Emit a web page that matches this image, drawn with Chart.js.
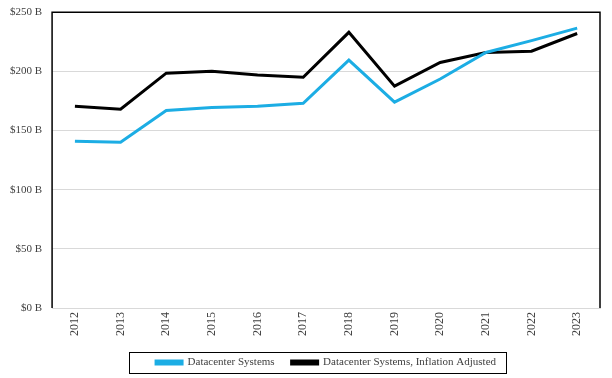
<!DOCTYPE html>
<html><head><meta charset="utf-8">
<script src="https://cdn.jsdelivr.net/npm/chart.js@4"></script>
<style>html,body{margin:0;padding:0;background:#fff}#wrap{width:612px;height:378px}</style>
</head><body><div id="wrap"><canvas id="c" width="612" height="378"></canvas></div>
<script>
const years = ["2012","2013","2014","2015","2016","2017","2018","2019","2020","2021","2022","2023"];
const datacenter = [141, 140, 167, 169.5, 170.5, 173, 209.5, 174, 193.5, 216, 226, 236.5];
const datacenterAdj = [170.5, 168, 198.5, 200, 197, 195, 233, 187.5, 207.5, 216, 217, 232];
const seriesNames = ["Datacenter Systems", "Datacenter Systems, Inflation Adjusted"];
const yTicks = [0, 50, 100, 150, 200, 250];

const frame = {
  id: 'frame',
  afterDraw(chart) {
    const {ctx, chartArea: a} = chart;
    ctx.save();
    ctx.lineWidth = 1.5;
    ctx.strokeStyle = '#000';
    ctx.beginPath();
    ctx.moveTo(a.left, a.bottom);
    ctx.lineTo(a.left, a.top);
    ctx.lineTo(a.right, a.top);
    ctx.lineTo(a.right, a.bottom);
    ctx.stroke();
    const hb = chart.legend.legendHitBoxes;
    if (hb && hb.length) {
      const l = Math.min(...hb.map(h => h.left)) - 27;
      const r = Math.max(...hb.map(h => h.left + h.width)) + 10;
      const t = Math.min(...hb.map(h => h.top)) - 5;
      const b = Math.max(...hb.map(h => h.top + h.height)) + 5;
      ctx.lineWidth = 1;
      ctx.strokeRect(Math.round(l) + 0.5, Math.round(t) + 0.5, Math.round(r - l), Math.round(b - t));
    }
    ctx.restore();
  }
};

new Chart(document.getElementById('c'), {
  type: 'line',
  data: {
    labels: years,
    datasets: [
      {label: seriesNames[0], data: datacenter, borderColor: '#1CADE4', backgroundColor: '#1CADE4', borderWidth: 3, pointRadius: 0, tension: 0},
      {label: seriesNames[1], data: datacenterAdj, borderColor: '#000000', backgroundColor: '#000000', borderWidth: 3, pointRadius: 0, tension: 0}
    ]
  },
  options: {
    responsive: false,
    animation: false,
    layout: {padding: {left: 0, right: 12, top: 0, bottom: 0}},
    scales: {
      x: {
        offset: true,
        grid: {display: false, drawTicks: false},
        border: {color: '#d9d9d9'},
        ticks: {
          maxRotation: 90, minRotation: 90, color: '#404040', padding: 4,
          font: {family: 'Liberation Serif', size: 12}
        }
      },
      y: {
        min: 0, max: 250,
        afterBuildTicks(axis) { axis.ticks = yTicks.map(v => ({value: v})); },
        grid: {color: '#d9d9d9', drawTicks: false},
        border: {display: false},
        ticks: {
          color: '#404040', padding: 10,
          font: {family: 'Liberation Serif', size: 11, lineHeight: 0.4},
          callback: v => '$' + v + ' B'
        }
      }
    },
    plugins: {
      legend: {
        position: 'bottom',
        fullSize: false,
        labels: {
          boxWidth: 26, boxHeight: 3, padding: 17, color: '#404040',
          font: {family: 'Liberation Serif', size: 11}
        }
      },
      tooltip: {enabled: false}
    }
  },
  plugins: [frame]
});
</script></body></html>
